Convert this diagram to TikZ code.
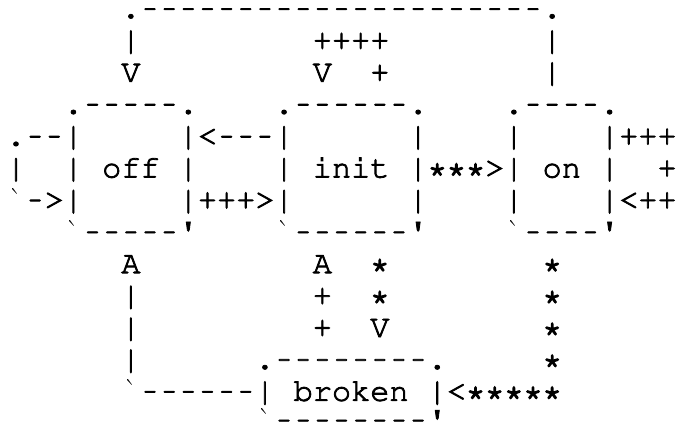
\documentclass[tikz,border=0pt]{standalone}
\usepackage[T1]{fontenc}
\newlength\cw
\setlength\cw{19.15pt}
\def\glyph#1{\ifx#1`\textasciigrave\else\ifx#1'\textquotesingle\else\ifx#1-\scalebox{0.72}[1]{-}\else\ifx#1*\special{pdf:literal direct 1.5 w}*\special{pdf:literal direct 0.8 w}\else#1\fi\fi\fi\fi}
\def\cells#1{\special{pdf:literal direct 2 Tr 0.8 w}\cellsi#1\relax\special{pdf:literal direct 0 Tr}}
\def\cellsi#1{\ifx#1\relax\else\makebox[\cw]{\glyph{#1}}\expandafter\cellsi\fi}
\newcommand\cfont{\fontencoding{T1}\fontfamily{pcr}\fontseries{m}\fontshape{n}\fontsize{32}{32}\selectfont}
\tikzset{txt/.style={anchor=base west, inner sep=0pt, outer sep=0pt, font=\cfont, text=black}}
\begin{document}
\begin{tikzpicture}[x=1pt,y=1pt]
\useasboundingbox (0,0) rectangle (677,-424);
\fill[white] (0,0) rectangle (677,-424);
\begin{scope}[shift={(6.4,13.9)}, x=19.15pt, y=-31.9pt]
% line 1
\node[txt] (l1a) at (6,1) {\cells{.---------------------.}};
% line 2
\node[txt] (l2a) at (6,2) {\cells{|}};
\node[txt] (l2b) at (16,2) {\cells{++++}};
\node[txt] (l2c) at (28,2) {\cells{|}};
% line 3
\node[txt] (l3a) at (6,3) {\cells{V}};
\node[txt] (l3b) at (16,3) {\cells{V}};
\node[txt] (l3c) at (19,3) {\cells{+}};
\node[txt] (l3d) at (28,3) {\cells{|}};
% line 4
\node[txt] (offtop) at (3,4) {\cells{.-----.}};
\node[txt] (inittop) at (14,4) {\cells{.------.}};
\node[txt] (ontop) at (26,4) {\cells{.----.}};
% line 5
\node[txt] (l5a) at (0,5) {\cells{.--|}};
\node[txt] (l5b) at (9,5) {\cells{|<---|}};
\node[txt] (l5c) at (21,5) {\cells{|}};
\node[txt] (l5d) at (26,5) {\cells{|}};
\node[txt] (l5e) at (31,5) {\cells{|+++}};
% line 6
\node[txt] (l6a) at (0,6) {\cells{|}};
\node[txt] (l6b) at (3,6) {\cells{|}};
\node[txt] (off) at (5,6) {\cells{off}};
\node[txt] (l6c) at (9,6) {\cells{|}};
\node[txt] (l6d) at (14,6) {\cells{|}};
\node[txt] (init) at (16,6) {\cells{init}};
\node[txt] (l6e) at (21,6) {\cells{|***>|}};
\node[txt] (on) at (28,6) {\cells{on}};
\node[txt] (l6f) at (31,6) {\cells{|}};
\node[txt] (l6g) at (34,6) {\cells{+}};
% line 7
\node[txt] (l7a) at (0,7) {\cells{`->|}};
\node[txt] (l7b) at (9,7) {\cells{|+++>|}};
\node[txt] (l7c) at (21,7) {\cells{|}};
\node[txt] (l7d) at (26,7) {\cells{|}};
\node[txt] (l7e) at (31,7) {\cells{|<++}};
% line 8
\node[txt] (offbot) at (3,8) {\cells{`-----'}};
\node[txt] (initbot) at (14,8) {\cells{`------'}};
\node[txt] (onbot) at (26,8) {\cells{`----'}};
% line 9
\node[txt] (l9a) at (6,9) {\cells{A}};
\node[txt] (l9b) at (16,9) {\cells{A}};
\node[txt] (l9c) at (19,9) {\cells{*}};
\node[txt] (l9d) at (28,9) {\cells{*}};
% line 10
\node[txt] (l10a) at (6,10) {\cells{|}};
\node[txt] (l10b) at (16,10) {\cells{+}};
\node[txt] (l10c) at (19,10) {\cells{*}};
\node[txt] (l10d) at (28,10) {\cells{*}};
% line 11
\node[txt] (l11a) at (6,11) {\cells{|}};
\node[txt] (l11b) at (16,11) {\cells{+}};
\node[txt] (l11c) at (19,11) {\cells{V}};
\node[txt] (l11d) at (28,11) {\cells{*}};
% line 12
\node[txt] (l12a) at (6,12) {\cells{|}};
\node[txt] (brokentop) at (13,12) {\cells{.--------.}};
\node[txt] (l12b) at (28,12) {\cells{*}};
% line 13
\node[txt] (l13a) at (6,13) {\cells{`------|}};
\node[txt] (broken) at (15,13) {\cells{broken}};
\node[txt] (l13b) at (22,13) {\cells{|<*****}};
% line 14
\node[txt] (brokenbot) at (13,13.9) {\cells{`--------'}};
\end{scope}
\end{tikzpicture}
\end{document}
